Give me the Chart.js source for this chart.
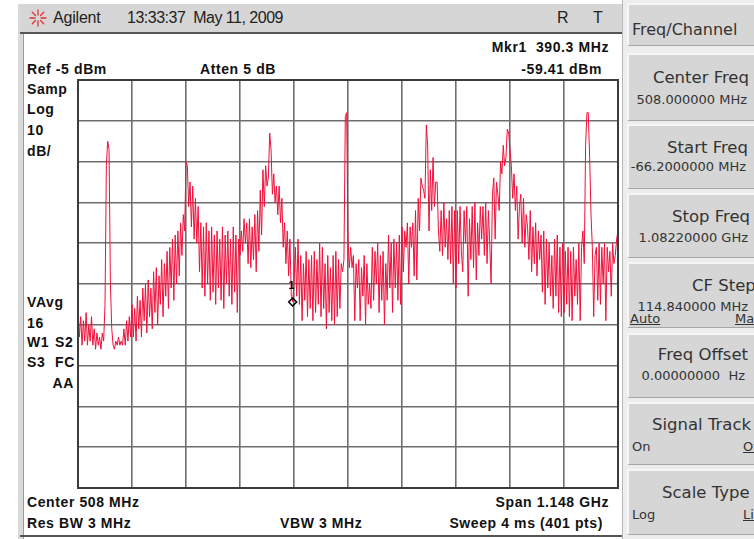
<!DOCTYPE html>
<html>
<head>
<meta charset="utf-8">
<script src="https://cdn.jsdelivr.net/npm/chart.js@4/dist/chart.umd.min.js"></script>
<style>
  html, body { margin: 0; padding: 0; }
  body { width: 754px; height: 539px; position: relative; overflow: hidden; background: #fff;
         font-family: "Liberation Sans", Arial, sans-serif; }
  .box { position: absolute; }
  .txt { position: absolute; white-space: pre; line-height: 1; }
  .ann { font-weight: bold; font-size: 14px; letter-spacing: 0.6px; color: #111; }
  .ttl { font-size: 16px; color: #222; }
  .sk  { font-family: "DejaVu Sans", sans-serif; font-size: 16.5px; color: #333; }
  .skh { font-family: "DejaVu Sans", sans-serif; font-size: 16px; color: #333; }
  .skv { font-family: "DejaVu Sans", sans-serif; font-size: 13px; color: #333; }
  .u { text-decoration: underline; }
  #titlebar  { left: 20px; top: 4px; width: 603px; height: 28px; background: #d6d6d6; }
  #titleline { left: 20px; top: 32px; width: 603px; height: 2px; background: #555; }
  #leftedge  { left: 18px; top: 4px; width: 5px; height: 535px; background: #dadada; border-right: 1px solid #9a9a9a; }
  #bottomline{ left: 20px; top: 535px; width: 603px; height: 2px; background: #555; }
  #panel     { left: 622px; top: 0; width: 132px; height: 539px; background: #ededed; border-left: 1px solid #b8b8b8; }
  .key { position: absolute; left: 627px; width: 140px; background: #d6d6d6;
         border-top: 2px solid #f6f6f6; border-left: 2px solid #f6f6f6; border-bottom: 1px solid #a6a6a6; box-sizing: border-box; }
  #plot { position: absolute; left: 77px; top: 79px; }
</style>
</head>
<body>
<div class="box" id="leftedge"></div>
<div class="box" id="titlebar"></div>
<div class="box" id="titleline"></div>
<div class="box" id="bottomline"></div>
<div class="box" id="panel"></div>

<svg class="box" style="left:29px;top:9px" width="18" height="18" viewBox="0 0 18 18">
  <g stroke="#e8303a" stroke-width="1.3" stroke-linecap="round">
    <line x1="9" y1="1" x2="9" y2="6"/><line x1="9" y1="12" x2="9" y2="17"/>
    <line x1="1" y1="9" x2="6" y2="9"/><line x1="12" y1="9" x2="17" y2="9"/>
    <line x1="3.3" y1="3.3" x2="6.5" y2="6.5"/><line x1="11.5" y1="11.5" x2="14.7" y2="14.7"/>
    <line x1="14.7" y1="3.3" x2="11.5" y2="6.5"/><line x1="6.5" y1="11.5" x2="3.3" y2="14.7"/>
  </g>
</svg>

<canvas id="plot" width="542" height="410"></canvas>

<script>
// Sweep settings
const startMHz = -66.2;
const stopMHz = 1082.2;
const sweepPoints = 401;
const refLevel = -5;       // dBm, top graticule line
const dbPerDiv = 10;
const divisions = 10;

// Marker 1
const markerFreq = 390.3;   // MHz
const markerLevel = -59.41; // dBm

// Trace levels (dBm), one block per horizontal division
const div0 = [-61,-68,-63,-70,-64,-69,-62,-70,-65,-69,-63,-70,-66,-71,-67,-70,-68,-71,-67,-69,
              -60,-26,-20,-22,-55,-66,-70,-71,-69,-70,-68,-70,-69,-70,-66,-70,-64,-69,-63,-68];
const div1 = [-60,-68,-61,-69,-58,-66,-59,-68,-56,-64,-55,-67,-54,-63,-56,-66,-52,-62,-51,-65,
              -53,-60,-49,-63,-50,-58,-47,-61,-46,-56,-44,-59,-43,-55,-42,-53,-40,-48,-38,-42];
const div2 = [-25,-26,-36,-30,-41,-31,-44,-34,-45,-36,-52,-40,-56,-41,-58,-40,-55,-42,-59,-41,
              -57,-43,-60,-42,-56,-44,-59,-41,-61,-43,-55,-42,-58,-44,-60,-41,-57,-43,-62,-44];
const div3 = [-48,-42,-47,-39,-45,-40,-50,-39,-51,-41,-49,-38,-52,-37,-47,-32,-43,-27,-36,-26,
              -31,-29,-18,-22,-33,-28,-35,-31,-38,-31,-40,-34,-46,-40,-50,-42,-53,-44,-58,-59.41];
const div4 = [-55,-46,-58,-44,-60,-48,-64,-50,-59,-47,-63,-49,-61,-48,-64,-47,-62,-49,-60,-45,
              -63,-46,-61,-50,-66,-48,-62,-51,-64,-48,-65,-47,-63,-49,-61,-50,-52,-49,-14,-13];
const div5 = [-44,-51,-46,-51,-48,-64,-50,-56,-49,-64,-51,-58,-48,-65,-50,-60,-55,-61,-46,-59,
              -47,-55,-45,-62,-48,-59,-47,-65,-50,-59,-43,-56,-45,-62,-44,-56,-45,-59,-43,-60];
const div6 = [-41,-52,-42,-46,-40,-55,-41,-46,-40,-53,-37,-54,-34,-42,-29,-31,-32,-34,-16,-21,
              -42,-27,-37,-24,-36,-30,-30,-42,-47,-37,-48,-35,-46,-39,-49,-37,-50,-36,-55,-37];
const div7 = [-56,-37,-50,-36,-47,-52,-37,-45,-36,-58,-39,-49,-36,-51,-35,-54,-40,-48,-36,-44,
              -36,-48,-35,-50,-37,-45,-55,-33,-29,-44,-30,-33,-37,-25,-28,-21,-26,-24,-17,-18];
const div8 = [-22,-26,-34,-28,-37,-31,-44,-36,-33,-45,-34,-46,-38,-41,-49,-37,-52,-41,-50,-40,
              -53,-42,-49,-43,-57,-42,-60,-44,-56,-45,-58,-48,-61,-44,-58,-43,-62,-46,-63,-45];
const div9 = [-62,-47,-60,-46,-63,-47,-64,-46,-58,-49,-60,-45,-64,-46,-42,-50,-21,-13,-13,-24,
              -38,-46,-63,-48,-46,-59,-45,-60,-46,-55,-45,-64,-46,-52,-47,-58,-45,-50,-48,-44,-42];

const traceDbm = [].concat(div0, div1, div2, div3, div4, div5, div6, div7, div8, div9);

// Sweep point frequencies and graticule positions
const stepMHz = (stopMHz - startMHz) / (sweepPoints - 1);
const tracePoints = traceDbm.map((v, i) => ({ x: startMHz + i * stepMHz, y: v }));
const xGrid = Array.from({ length: divisions + 1 }, (_, i) => startMHz + i * (stopMHz - startMHz) / divisions);
const bottomLevel = refLevel - dbPerDiv * divisions;
const yGrid = Array.from({ length: divisions + 1 }, (_, i) => bottomLevel + i * dbPerDiv);

// Plain text helper for the screen annotations and softkeys
function put(text, x, cy, cls, size, align) {
  const d = document.createElement('div');
  d.className = 'txt ' + cls;
  d.textContent = text;
  d.style.top = (cy - size * 0.5) + 'px';
  if (align === 'right') d.style.right = (754 - x) + 'px'; else d.style.left = x + 'px';
  document.body.appendChild(d);
  return d;
}
function key(top, bottom) {
  const k = document.createElement('div');
  k.className = 'key';
  k.style.top = top + 'px';
  k.style.height = (bottom - top) + 'px';
  document.body.appendChild(k);
}

// Softkey frames
key(3, 46); key(53, 121); key(124, 189); key(193, 258); key(262, 328);
key(333, 398); key(402, 465); key(469, 535);

// Title bar
put('Agilent', 53, 18, 'ttl', 16).style.letterSpacing = '-0.2px';
put('13:33:37  May 11, 2009', 127, 18, 'ttl', 16).style.letterSpacing = '-0.5px';
put('R', 557, 18, 'ttl', 16);
put('T', 593, 18, 'ttl', 16);

// Screen annotations
put('Mkr1  390.3 MHz', 609, 47, 'ann', 14, 'right');
put('Ref -5 dBm', 27, 69, 'ann', 14);
put('Atten 5 dB', 200, 69, 'ann', 14);
put('-59.41 dBm', 602, 69, 'ann', 14, 'right');
put('Samp', 27, 89, 'ann', 14);
put('Log', 27, 109, 'ann', 14);
put('10', 27, 130, 'ann', 14);
put('dB/', 27, 151, 'ann', 14);
put('VAvg', 27, 302, 'ann', 14);
put('16', 27, 323, 'ann', 14);
put('W1', 27, 342, 'ann', 14);
put('S2', 55, 342, 'ann', 14);
put('S3', 27, 362, 'ann', 14);
put('FC', 55, 362, 'ann', 14);
put('AA', 74, 383, 'ann', 14, 'right');
put('Center 508 MHz', 27, 502, 'ann', 14);
put('Res BW 3 MHz', 27, 523, 'ann', 14);
put('VBW 3 MHz', 280, 523, 'ann', 14);
put('Span 1.148 GHz', 609, 502, 'ann', 14, 'right');
put('Sweep 4 ms (401 pts)', 603, 523, 'ann', 14, 'right');

// Softkey labels
put('Freq/Channel', 632, 30, 'skh', 16);
put('Center Freq', 749, 78, 'sk', 16.5, 'right');
put('508.000000 MHz', 747, 99, 'skv', 13, 'right');
put('Start Freq', 748, 148, 'sk', 16.5, 'right');
put('-66.2000000 MHz', 746, 166, 'skv', 13, 'right');
put('Stop Freq', 672, 217, 'sk', 16.5);
put('1.08220000 GHz', 748, 237, 'skv', 13, 'right');
put('CF Step', 692, 286, 'sk', 16.5);
put('114.840000 MHz', 748, 306, 'skv', 13, 'right');
put('Auto', 630, 318, 'skv u', 13);
put('Man', 735, 318, 'skv u', 13);
put('Freq Offset', 748, 355, 'sk', 16.5, 'right');
put('0.00000000  Hz', 745, 375, 'skv', 13, 'right');
put('Signal Track', 652, 425, 'sk', 16.5);
put('On', 632, 446, 'skv', 13);
put('Off', 743, 446, 'skv u', 13);
put('Scale Type', 662, 493, 'sk', 16.5);
put('Log', 632, 514, 'skv', 13);
put('Lin', 743, 514, 'skv u', 13);

// Graticule frame and marker number
const graticuleFrame = {
  id: 'graticuleFrame',
  afterDatasetsDraw(chart) {
    const { ctx, chartArea: a, scales } = chart;
    ctx.save();
    ctx.strokeStyle = '#3c3c3c';
    ctx.lineWidth = 2;
    ctx.strokeRect(a.left, a.top, a.right - a.left, a.bottom - a.top);
    const mx = scales.x.getPixelForValue(markerFreq);
    const my = scales.y.getPixelForValue(markerLevel);
    ctx.fillStyle = '#000';
    ctx.font = 'bold 11px "Liberation Sans", Arial, sans-serif';
    ctx.textAlign = 'center';
    ctx.textBaseline = 'middle';
    ctx.fillText('1', mx - 1, my - 16);
    ctx.restore();
  }
};

const gridOpts = { color: '#6e6e6e', lineWidth: 1.6, drawTicks: false };

new Chart(document.getElementById('plot'), {
  type: 'line',
  data: {
    datasets: [
      {
        data: tracePoints,
        borderColor: '#f0103a',
        borderWidth: 1,
        pointRadius: 0,
        tension: 0,
        order: 1
      },
      {
        data: [{ x: markerFreq, y: markerLevel }],
        showLine: false,
        pointStyle: 'rectRot',
        pointRadius: 4,
        pointBorderWidth: 1.5,
        pointBorderColor: '#000',
        pointBackgroundColor: 'rgba(255,255,255,0)',
        order: 0
      }
    ]
  },
  options: {
    responsive: false,
    animation: false,
    devicePixelRatio: 1,
    events: [],
    layout: { autoPadding: false, padding: { left: 1, right: 1, top: 1, bottom: 1 } },
    plugins: { legend: { display: false }, tooltip: { enabled: false } },
    scales: {
      x: {
        type: 'linear', min: startMHz, max: stopMHz,
        ticks: { display: false },
        grid: gridOpts,
        border: { display: false },
        afterBuildTicks: s => { s.ticks = xGrid.map(v => ({ value: v })); }
      },
      y: {
        type: 'linear', min: bottomLevel, max: refLevel,
        ticks: { display: false },
        grid: gridOpts,
        border: { display: false },
        afterBuildTicks: s => { s.ticks = yGrid.map(v => ({ value: v })); }
      }
    }
  },
  plugins: [graticuleFrame]
});
</script>
</body>
</html>
